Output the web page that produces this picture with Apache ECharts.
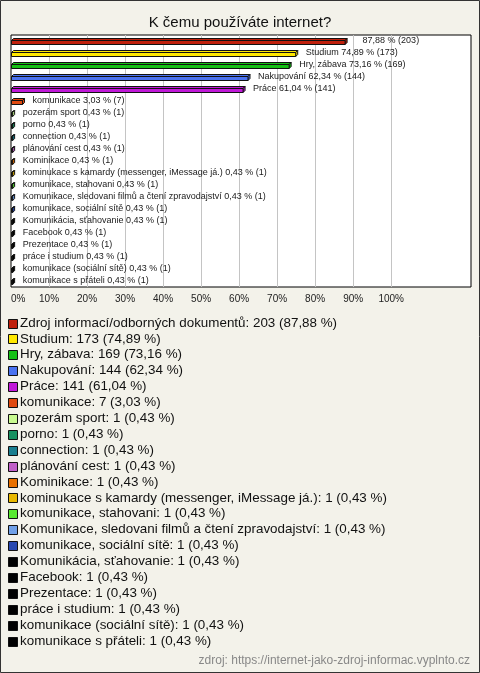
<!DOCTYPE html>
<html>
<head>
<meta charset="utf-8">
<script src="https://cdn.jsdelivr.net/npm/echarts@6/dist/echarts.min.js"></script>
<style>
html,body{margin:0;padding:0;background:#f3f2ea;}
#chart{width:480px;height:673px;}
</style>
</head>
<body>
<div id="chart"></div>
<script>
const title = 'K čemu používáte internet?';
const source = 'zdroj: https://internet-jako-zdroj-informac.vyplnto.cz';
const categories = [
  'Zdroj informací/odborných dokumentů',
  'Studium',
  'Hry, zábava',
  'Nakupování',
  'Práce',
  'komunikace',
  'pozerám sport',
  'porno',
  'connection',
  'plánování cest',
  'Kominikace',
  'kominukace s kamardy (messenger, iMessage já.)',
  'komunikace, stahovani',
  'Komunikace, sledovani filmů a čtení zpravodajství',
  'komunikace, sociální sítě',
  'Komunikácia, sťahovanie',
  'Facebook',
  'Prezentace',
  'práce i studium',
  'komunikace (sociální sítě)',
  'komunikace s přáteli'
];
const counts = [203,173,169,144,141,7,1,1,1,1,1,1,1,1,1,1,1,1,1,1,1];
const percents = [87.88,74.89,73.16,62.34,61.04,3.03,0.43,0.43,0.43,0.43,0.43,0.43,0.43,0.43,0.43,0.43,0.43,0.43,0.43,0.43,0.43];
const barLabelNames = ['', 'Studium','Hry, zábava','Nakupování','Práce','komunikace','pozerám sport','porno','connection','plánování cest','Kominikace','kominukace s kamardy (messenger, iMessage já.)','komunikace, stahovani','Komunikace, sledovani filmů a čtení zpravodajství','komunikace, sociální sítě','Komunikácia, sťahovanie','Facebook','Prezentace','práce i studium','komunikace (sociální sítě)','komunikace s přáteli'];
const colors = ['#c0200c','#ffe800','#16c016','#4a72f0','#c018d8','#e04a10','#c8fa90','#189060','#1a7f90','#c060c8','#e87000','#e8b800','#58e830','#70a0e8','#2848b0','#000000','#000000','#000000','#000000','#000000','#000000'];
const xTicks = [0,10,20,30,40,50,60,70,80,90,100];
const gridTicks = [10,20,30,40,50,60,70,80,90,100];

const fmt = v => v.toFixed(2).replace('.', ',');
const FONT = '"Liberation Sans", Arial, sans-serif';

const chart = echarts.init(document.getElementById('chart'), null, {renderer:'canvas'});

const legendItems = [];
categories.forEach((c, i) => {
  const y = 323 + i * 15.9;
  legendItems.push({
    type:'rect', shape:{x:8.5, y:Math.round(y - 4.5) + 0.5, width:9, height:9},
    style:{fill:colors[i], stroke:'#111', lineWidth:1}, z:10
  });
  legendItems.push({
    type:'text', x:20, y:y,
    style:{text:c + ': ' + counts[i] + ' (' + fmt(percents[i]) + ' %)', fill:'#111', font:'13.4px ' + FONT, verticalAlign:'middle', align:'left'}, z:10
  });
});

const option = {
  backgroundColor:'#f3f2ea',
  animation:false,
  title:{text:title, left:'center', top:10, textStyle:{fontFamily:FONT, fontSize:15, fontWeight:'normal', color:'#111'}},
  grid:{left:11, top:35, width:460, height:252, show:true, backgroundColor:'#ffffff', borderColor:'#000', borderWidth:1, containLabel:false},
  xAxis:{type:'value', min:0, max:121, interval:10,
    axisLine:{show:false}, axisTick:{show:false}, splitLine:{show:false},
    axisLabel:{formatter:v => (v <= 100 && xTicks.indexOf(v) >= 0) ? v + '%' : '', fontFamily:FONT, fontSize:10, color:'#222', margin:7, alignMinLabel:'left'}
  },
  yAxis:{type:'category', data:categories, inverse:true, show:false},
  graphic:[
    {type:'rect', shape:{x:0.5, y:0.5, width:479, height:672}, style:{fill:'none', stroke:'#333', lineWidth:1}, z:100},
    {type:'text', right:10, top:655, style:{text:source, fill:'#888', font:'12px ' + FONT}, z:10},
    ...legendItems
  ],
  series:[
    {type:'line', data:[], silent:true, z:1,
      markLine:{silent:true, symbol:['none','none'], label:{show:false}, animation:false,
        lineStyle:{color:'#c4c4c4', type:'solid', width:1},
        data:gridTicks.map(v => ({xAxis:v}))}
    },
    {type:'custom', z:5, clip:false,
      data:percents.map((p, i) => [p, i]),
      encode:{x:0, y:1},
      renderItem:(params, api) => {
        const i = api.value(1);
        const v = api.value(0);
        const p0 = api.coord([0, i]);
        const p1 = api.coord([v, i]);
        const cy = p0[1];
        const x0 = Math.round(p0[0]) + 0.5;
        const x1 = Math.max(p1[0], x0 + 1);
        const fy = Math.round(cy - 1) + 0.5;
        const h = 4, d = 2;
        const col = colors[i];
        const name = barLabelNames[i];
        const txt = (name ? name + ' ' : '   ') + fmt(percents[i]) + ' % (' + counts[i] + ')';
        return {type:'group', children:[
          {type:'polygon', shape:{points:[[x0,fy],[x0+d,fy-d],[x1+d,fy-d],[x1,fy]]}, style:{fill:col, stroke:'#111', lineWidth:1}},
          {type:'polygon', shape:{points:[[x1,fy],[x1+d,fy-d],[x1+d,fy+h-d],[x1,fy+h]]}, style:{fill:col, stroke:'#111', lineWidth:1}},
          {type:'rect', shape:{x:x0, y:fy, width:x1-x0, height:h}, style:{fill:col, stroke:'#111', lineWidth:1}},
          {type:'text', x:x1 + d + 8, y:cy, style:{text:txt, fill:'#1a1a1a', font:'9px ' + FONT, verticalAlign:'middle', align:'left'}}
        ]};
      }
    }
  ]
};
chart.setOption(option);
</script>
</body>
</html>
